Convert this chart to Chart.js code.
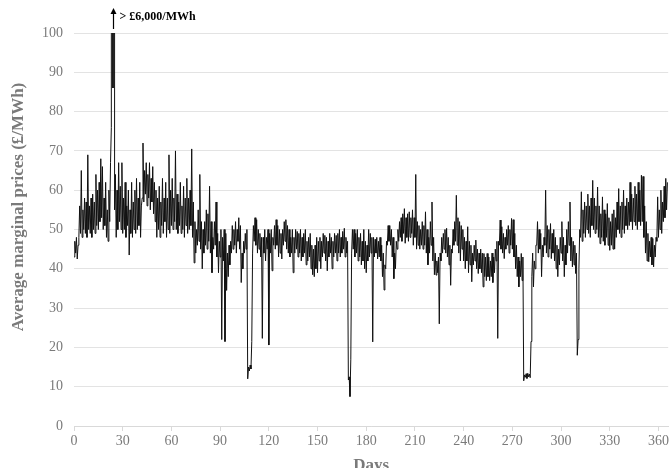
<!DOCTYPE html>
<html><head><meta charset="utf-8">
<script src="https://cdn.jsdelivr.net/npm/chart.js@4/dist/chart.umd.min.js"></script>
<style>html,body{margin:0;padding:0;background:#fff;overflow:hidden;width:671px;height:468px}
#wrap{position:relative;width:671px;height:480px}</style>
</head><body><div id="wrap"><canvas id="c" width="671" height="480"></canvas></div>
<script>
// Daily low / high of the average marginal price (£/MWh), days 0..365
const dailyLow = [
43,44,42.5,48,49,48,50,49,48,50,
49,48,50,49,51,50,52,53,50,51,
48,47,52,76,86,55,48,50,52,50,
49,50,48,51,43.5,49,48,50,49,50,
51,48,58,57,59,56,58,55,57,54,
52,48,50,48,51,49,52,48,50,49,
51,50,52,50,49,51,49,50,48,51,
49,50,51,48,41.5,44,46,47,45,40,
44,46,45,47,44,39,45,46,43,39,
43,22,42,21.5,34.5,38,41,44,45,46,
44,47,45,36.5,40,44,45,12,14,14.5,
44,47,46,44,45,43,22.3,44,42,45,
20.6,44,39.5,46,45,46,43,44,42.5,46,
47,45,44,43,44,39,44,45,43,44,
42,43,44,41,42,43,40,38.5,38,40,
39,42,40,43,44,42,39.5,43,44,40,
43,44,42,44,43,44,45,43,44,11.7,
7.5,44,45,43,44,42,43,41,42,40,
39,42,43,44,21.4,43,44,42.5,43,42,
38,34.6,40,46,47,46,43,37.5,40,45,
47,48,47,49,46.5,48,47,48,49,46,
48,45,46,45,46,45,46,44,41,44,
46,42,38.5,38.4,39,26,42,44,45,44,
43,41,35.8,44,46,47,46,44,42,45,
42,40,42,39,41,36.7,41,42,40,38.8,
40,39,35.4,38,37,38,37,38,36.5,39,
42,22.3,46,45,44,42.6,45,46,44,46,
45,43,40,38,35.4,38,37,11.5,12.4,12.1,
12.5,12.3,38,35.4,40,46,44,45,38,43,
46,44,43,45,42.6,44,42,40,38,41,
44,42,38,41,44,46,42,40.5,41,38.8,
18,40,48,47,49,48,50,49,48,51,
50,49,50,48,46.4,48,47,46,48,46,
44.7,46,45,45,48,50,49,48,50,49,
51,50,51,52,50,52,51,50,52,51,
52,48,44,42,41.8,43,41,40.5,43,47,
48,50,49,52,53,55
];
const dailyHigh = [
47,48,46,56,65,55,58,57,69,56,
58,59,57,64,60,62,68,66,58,62,
55,60,67,6200,6100,64,60,67,61,67,
58,62,56,60,55,62,57,60,63,58,
62,56,72,65,67,64,67,63,66,62,
60,58,61,57,63,58,62,58,69,60,
63,58,70,59,57,62,56,61,58,63,
58,60,70.5,57,52,50,55,64,52,50,
52,55,54,61,52,48,52,57,49,47,
50,48,50,49,44,46,47,51,50,52,
50,53,51,44,47,49,50,15,15.5,21.5,
51,53,52.5,50,49,48,48,50,48,50,
49,50,48,51,52.5,51,50,49,50,52,
52.5,51,50,48,50,48,50,49.5,49,50,
48,49,50,47,48,49,46,45,46,48,
47,48,47,49,48.5,48,47,49,48,47,
49,48.5,49,50,48,49.5,50.3,48,47,12.5,
17,50,50,49,50,48,49,47,50,47,
46,50,49,48,48,47.5,48,47,48,46,
44,41,47,51,51,50,48,44,47,50,
52,53,54,55.3,53,54,54.5,53,55,53,
64,52,51,50,52,51,54.5,50,48,52,
57,48,44,42,43,44,48,49,50,50.3,
48,46,45,50,52,58.7,53,52,51,50,
48,47,50.7,47,46,44,46,47.3,45,44,
45,44,43.9,43,43.9,43,42,44,43,45,
47,47,52.4,50.7,49,48,50,51,50,52.8,
52.5,49,46,43,42,43.9,43,13,13.3,13.4,
13.2,21.5,44,42,46,52,50,49,46,48,
60,51,50,51.5,49,50,48,46,45,48,
52,48,46,50,52,57,48,47,46,44,
22,50,59.6,55,57,56,59,56,58,62.5,
58,56,60.8,56,54,58.3,55,54,56.6,53,
52,54,55,53,57,60.4,56,57,60,56,
58,57,62,59,58,61,59,62,60,63.8,
63.5,56,52,49,47,48,47.7,46,48,58.3,
55,60,57,61,63,62
];
const xTickValues = [0,30,60,90,120,150,180,210,240,270,300,330,360];
const yTickValues = [0,10,20,30,40,50,60,70,80,90,100];
const xTitle = 'Days';
const yTitle = 'Average marginal prices (£/MWh)';
const noteText = '> £6,000/MWh';
const noteDay = 24;

const points = [];
for (let d = 0; d < dailyLow.length; d++) {
  points.push({x: d, y: dailyLow[d]});
  points.push({x: d + 0.5, y: dailyHigh[d]});
}

const extraText = {
  id: 'extraText',
  afterDraw(chart) {
    const ctx = chart.ctx;
    const x = Math.round(chart.scales.x.getPixelForValue(noteDay)) + 0.5;
    ctx.save();
    ctx.strokeStyle = '#000'; ctx.fillStyle = '#000'; ctx.lineWidth = 1.2;
    ctx.beginPath(); ctx.moveTo(x, 29); ctx.lineTo(x, 12); ctx.stroke();
    ctx.beginPath(); ctx.moveTo(x, 8); ctx.lineTo(x - 3, 14); ctx.lineTo(x + 3, 14); ctx.closePath(); ctx.fill();
    ctx.font = 'bold 12px "Liberation Serif"';
    ctx.textBaseline = 'middle'; ctx.textAlign = 'left';
    ctx.fillText(noteText, x + 6, 17);
    ctx.restore();
    // y-axis title
    ctx.save();
    ctx.translate(19, 207);
    ctx.rotate(-Math.PI / 2);
    ctx.font = 'bold 17px "Liberation Serif"';
    ctx.fillStyle = '#7a7a7a';
    ctx.textAlign = 'center'; ctx.textBaseline = 'middle';
    ctx.fillText(yTitle, 0, 0);
    ctx.restore();
  }
};

new Chart(document.getElementById('c'), {
  type: 'line',
  data: { datasets: [{ data: points, borderColor: '#111', borderWidth: 1, pointRadius: 0, tension: 0, fill: false }] },
  options: {
    responsive: false, animation: false, parsing: true,
    layout: { padding: { top: 33, right: 2, left: 0, bottom: 0 } },
    plugins: { legend: { display: false }, tooltip: { enabled: false } },
    scales: {
      x: {
        type: 'linear', min: 0, max: 366,
        afterBuildTicks: s => { s.ticks = xTickValues.map(v => ({ value: v })); },
        grid: { drawOnChartArea: false, drawTicks: true, tickLength: 5, color: '#d9d9d9' },
        border: { display: true, color: '#d9d9d9' },
        ticks: { font: { family: 'Liberation Serif', size: 14 }, color: '#7a7a7a', padding: 2, maxRotation: 0, autoSkip: false },
        title: { display: true, text: xTitle, font: { family: 'Liberation Serif', size: 17, weight: 'bold' }, color: '#7a7a7a', padding: { top: 0, bottom: 4 } },
        afterFit: s => { s.height = 54; }
      },
      y: {
        min: 0, max: 100,
        afterBuildTicks: s => { s.ticks = yTickValues.map(v => ({ value: v })); },
        grid: { color: '#e3e3e3', drawTicks: false },
        border: { display: false },
        ticks: { font: { family: 'Liberation Serif', size: 14 }, color: '#7a7a7a', padding: 11 },
        title: { display: false },
        afterFit: s => { s.width = 74; }
      }
    }
  },
  plugins: [extraText]
});
</script></body></html>
